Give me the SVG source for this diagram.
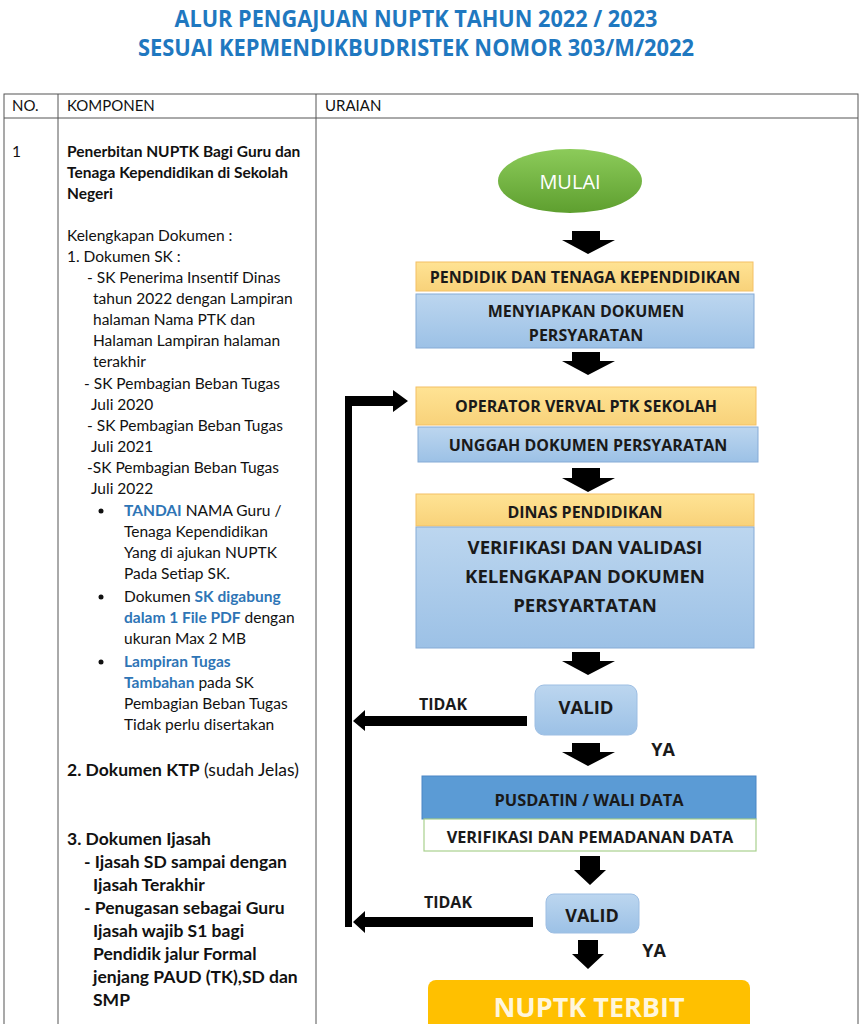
<svg xmlns="http://www.w3.org/2000/svg" width="863" height="1024" viewBox="0 0 863 1024">
<defs>
<linearGradient id="gYel" x1="0" y1="0" x2="0" y2="1"><stop offset="0" stop-color="#FFE394"/><stop offset="1" stop-color="#F8D27A"/></linearGradient>
<linearGradient id="gBlue" x1="0" y1="0" x2="0" y2="1"><stop offset="0" stop-color="#BCD6EF"/><stop offset="1" stop-color="#9CC1E6"/></linearGradient>
<linearGradient id="gGreen" x1="0" y1="0" x2="0" y2="1"><stop offset="0" stop-color="#8CCB5A"/><stop offset="1" stop-color="#5E9F2F"/></linearGradient>
<style>
.t{font-family:Lato,"Open Sans","Liberation Sans",sans-serif;fill:#111}
.lc{font-size:15.5px}
.b{font-weight:bold}
.bl{fill:#2E75B6;font-weight:bold}
.hd{font-size:15px}
.title{font-family:"Open Sans",Lato,"Liberation Sans",sans-serif;font-weight:bold;font-size:22.5px;fill:#1F78C0}
.fc{font-family:"Open Sans",Lato,"Liberation Sans",sans-serif;font-weight:bold;fill:#1a1a1a;text-anchor:middle}
.yel{fill:url(#gYel);stroke:#F4C065;stroke-width:1}
.blu{fill:url(#gBlue);stroke:#86ABD6;stroke-width:1}
.grid{stroke:#555;stroke-width:1;fill:none}
.arr{fill:#000}
</style>
</defs>
<rect width="863" height="1024" fill="#fff"/>

<g id="title">
<text class="title" x="416" y="27" text-anchor="middle" textLength="483" lengthAdjust="spacingAndGlyphs">ALUR PENGAJUAN NUPTK TAHUN 2022 / 2023</text>
<text class="title" x="416" y="56" text-anchor="middle" textLength="556" lengthAdjust="spacingAndGlyphs">SESUAI KEPMENDIKBUDRISTEK NOMOR 303/M/2022</text>
</g>

<g id="table">
<rect class="grid" x="4" y="94" width="854" height="940"/>
<line class="grid" x1="4" y1="118" x2="858" y2="118"/>
<line class="grid" x1="58" y1="94" x2="58" y2="1024"/>
<line class="grid" x1="316" y1="94" x2="316" y2="1024"/>
<text class="t hd" x="12" y="111">NO.</text>
<text class="t hd" x="67" y="111">KOMPONEN</text>
<text class="t hd" x="325" y="111">URAIAN</text>
</g>

<g id="komponen" class="t lc">
<text x="12" y="157">1</text>
<text class="b" x="67" y="157">Penerbitan NUPTK Bagi Guru dan</text>
<text class="b" x="67" y="178">Tenaga Kependidikan di Sekolah</text>
<text class="b" x="67" y="199">Negeri</text>
<text x="67" y="241">Kelengkapan Dokumen :</text>
<text x="67" y="262">1. Dokumen SK :</text>
<text x="87" y="283">- SK Penerima Insentif Dinas</text>
<text x="93" y="304">tahun 2022 dengan Lampiran</text>
<text x="93" y="325">halaman Nama PTK dan</text>
<text x="93" y="346">Halaman Lampiran halaman</text>
<text x="93" y="367">terakhir</text>
<text x="84" y="389">- SK Pembagian Beban Tugas</text>
<text x="91" y="410">Juli 2020</text>
<text x="87" y="431">- SK Pembagian Beban Tugas</text>
<text x="91" y="452">Juli 2021</text>
<text x="87" y="473">-SK Pembagian Beban Tugas</text>
<text x="91" y="494">Juli 2022</text>
<circle cx="101" cy="511" r="2.5" fill="#111"/>
<text x="124" y="516"><tspan class="bl">TANDAI</tspan> NAMA Guru /</text>
<text x="124" y="537">Tenaga Kependidikan</text>
<text x="124" y="558">Yang di ajukan NUPTK</text>
<text x="124" y="579">Pada Setiap SK.</text>
<circle cx="101" cy="597" r="2.5" fill="#111"/>
<text x="124" y="602">Dokumen <tspan class="bl">SK digabung</tspan></text>
<text x="124" y="623"><tspan class="bl">dalam 1 File PDF</tspan> dengan</text>
<text x="124" y="644">ukuran Max 2 MB</text>
<circle cx="101" cy="662" r="2.5" fill="#111"/>
<text x="124" y="667"><tspan class="bl">Lampiran Tugas</tspan></text>
<text x="124" y="688"><tspan class="bl">Tambahan</tspan> pada SK</text>
<text x="124" y="709">Pembagian Beban Tugas</text>
<text x="124" y="730">Tidak perlu disertakan</text>
<text x="67" y="776" style="font-size:17.5px"><tspan class="b">2. Dokumen KTP</tspan> (sudah Jelas)</text>
<g class="b" style="font-size:17.5px">
<text x="67" y="845">3. Dokumen Ijasah</text>
<text x="84" y="868">- Ijasah SD sampai dengan</text>
<text x="93" y="891">Ijasah Terakhir</text>
<text x="84" y="914">- Penugasan sebagai Guru</text>
<text x="93" y="937">Ijasah wajib S1 bagi</text>
<text x="93" y="960">Pendidik jalur Formal</text>
<text x="93" y="983">jenjang PAUD (TK),SD dan</text>
<text x="93" y="1006">SMP</text>
</g>
</g>

<g id="connectors">
<polygon class="arr" points="572,231 600,231 600,240 615,240 588,254 562,240 572,240"/>
<polygon class="arr" points="572,352 600,352 600,361 615,361 588,375 562,361 572,361"/>
<polygon class="arr" points="572,468 600,468 600,478 615,478 588,492 562,478 572,478"/>
<polygon class="arr" points="572,652 600,652 600,661 615,661 588,675 562,661 572,661"/>
<polygon class="arr" points="572,743 600,743 600,752 615,752 588,766 562,752 572,752"/>
<polygon class="arr" points="580,856 600,856 600,870 606,870 590,885 574,870 580,870"/>
<polygon class="arr" points="578,940 598,940 598,954 604,954 588,969 572,954 578,954"/>
<rect class="arr" x="345" y="396" width="7" height="531"/>
<polygon class="arr" points="345,396 393,396 393,390 408,401 393,412 393,406 345,406"/>
<polygon class="arr" points="527,716 365,716 365,710 353,721 365,731 365,726 527,726"/>
<polygon class="arr" points="533,917 365,917 365,911 353,922 365,933 365,927 533,927"/>
</g>

<g id="mulai">
<ellipse cx="570" cy="181" rx="72" ry="32" fill="url(#gGreen)"/>
<text x="570" y="189" text-anchor="middle" style="font-family:'Open Sans',Lato,sans-serif;font-size:20px;fill:#fff">MULAI</text>
</g>

<g id="ptk">
<rect class="yel" x="416" y="262" width="337" height="29"/>
<text class="fc" x="585" y="283" font-size="16">PENDIDIK DAN TENAGA KEPENDIDIKAN</text>
</g>
<g id="menyiapkan">
<rect class="blu" x="416" y="294" width="338" height="54"/>
<text class="fc" x="586" y="317" font-size="16">MENYIAPKAN DOKUMEN</text>
<text class="fc" x="586" y="341" font-size="16">PERSYARATAN</text>
</g>

<g id="operator">
<rect class="yel" x="416" y="387" width="340" height="38"/>
<text class="fc" x="586" y="412" font-size="16">OPERATOR VERVAL PTK SEKOLAH</text>
</g>
<g id="unggah">
<rect class="blu" x="418" y="427" width="340" height="35"/>
<text class="fc" x="588" y="451" font-size="16">UNGGAH DOKUMEN PERSYARATAN</text>
</g>

<g id="dinas">
<rect class="yel" x="416" y="494" width="338" height="32"/>
<text class="fc" x="585" y="518" font-size="16">DINAS PENDIDIKAN</text>
</g>
<g id="verifikasi">
<rect class="blu" x="416" y="527" width="338" height="121"/>
<text class="fc" x="585" y="554" font-size="18.6">VERIFIKASI DAN VALIDASI</text>
<text class="fc" x="585" y="583" font-size="18.6">KELENGKAPAN DOKUMEN</text>
<text class="fc" x="585" y="612" font-size="18.6">PERSYARTATAN</text>
</g>

<g id="valid1">
<rect x="535" y="685" width="102" height="50" rx="9" fill="url(#gBlue)" stroke="#9DBEE3"/>
<text class="fc" x="586" y="714" font-size="18.5">VALID</text>
</g>
<g id="labels1">
<text class="fc" x="443" y="710" font-size="16">TIDAK</text>
<text class="fc" x="663" y="756" font-size="18">YA</text>
</g>

<g id="pusdatin">
<rect x="422" y="776" width="334" height="43" fill="#5B9BD5" stroke="#4A86C5"/>
<text class="fc" x="589" y="806" font-size="16.4">PUSDATIN / WALI DATA</text>
</g>
<g id="pemadanan">
<rect x="424" y="819" width="332" height="32" fill="#fff" stroke="#A9D18E" stroke-width="1.2"/>
<text class="fc" x="590" y="843" font-size="16.3">VERIFIKASI DAN PEMADANAN DATA</text>
</g>

<g id="valid2">
<rect x="546" y="894" width="93" height="39" rx="8" fill="url(#gBlue)" stroke="#9DBEE3"/>
<text class="fc" x="592" y="922" font-size="18">VALID</text>
</g>
<g id="labels2">
<text class="fc" x="448" y="908" font-size="16">TIDAK</text>
<text class="fc" x="654" y="957" font-size="18">YA</text>
</g>

<g id="terbit">
<rect x="428" y="980" width="322" height="60" rx="8" fill="#FFC000"/>
<text class="fc" x="589" y="1017" font-size="27" style="fill:#FFF6DC">NUPTK TERBIT</text>
</g>
</svg>
